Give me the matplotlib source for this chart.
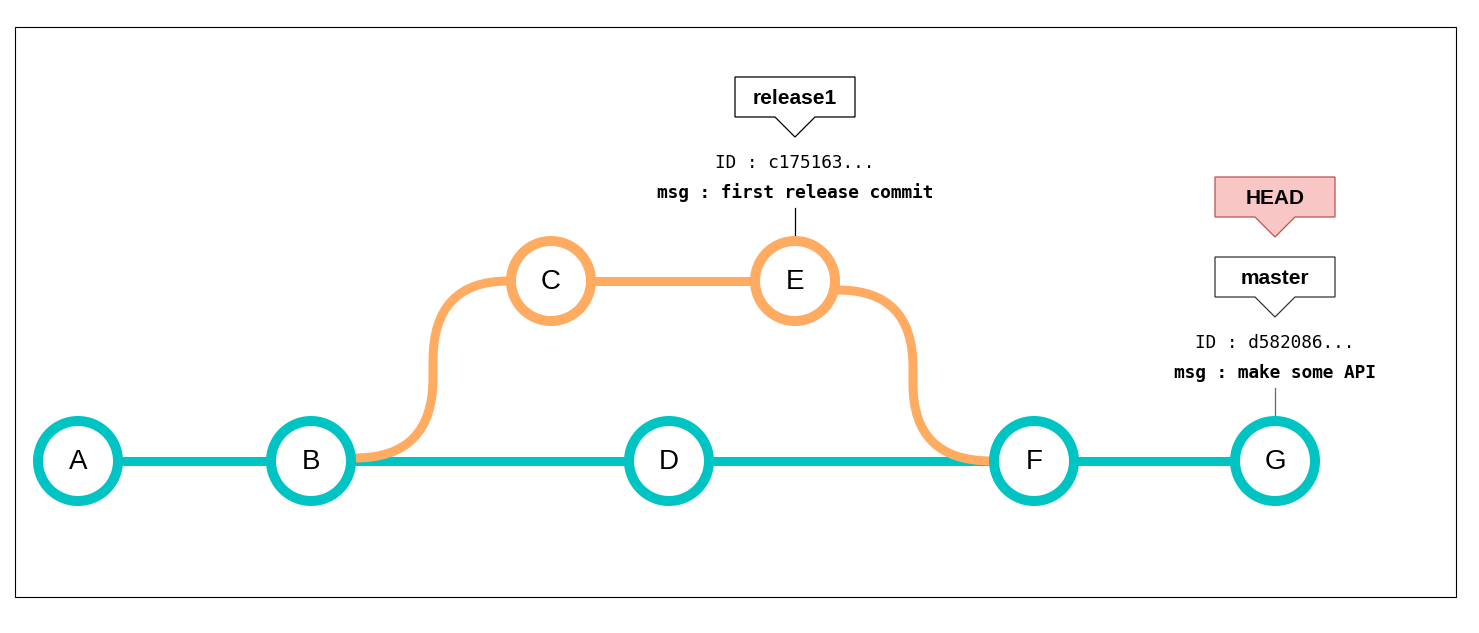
import matplotlib.pyplot as plt
from matplotlib.patches import Circle, Polygon, Rectangle, PathPatch
from matplotlib.path import Path

# commit graph data
commits = ["A", "B", "C", "D", "E", "F", "G"]
branch_of = ["master", "master", "release1", "master", "release1", "master", "master"]
master_chain = ["A", "B", "D", "F", "G"]
release_chain = ["C", "E"]
fork_from, merge_into = "B", "F"

ref_labels = ["release1", "master"]
ref_targets = ["E", "G"]
ref_ids = ["ID : c175163...", "ID : d582086..."]
ref_msgs = ["msg : first release commit", "msg : make some API"]
head_label = "HEAD"

# layout (pixels)
W, H = 1479, 633
col_x = {"A": 78, "B": 311, "C": 551, "D": 669, "E": 795, "F": 1034, "G": 1275}
lane_y = {"master": 461, "release1": 281}
R = 40
TEAL = "#00C4C4"
ORANGE = "#FFAB62"

fig = plt.figure(figsize=(W / 100, H / 100), dpi=100)
ax = fig.add_axes([0, 0, 1, 1])
ax.set_xlim(0, W)
ax.set_ylim(H, 0)
ax.axis("off")

ax.add_patch(Rectangle((15, 27), 1441, 570, fill=False, lw=0.8, ec="black"))

pos = {c: (col_x[c], lane_y[b]) for c, b in zip(commits, branch_of)}
color = {c: TEAL if b == "master" else ORANGE for c, b in zip(commits, branch_of)}

# straight edges
for chain, col in [(master_chain, TEAL), (release_chain, ORANGE)]:
    for a, b in zip(chain[:-1], chain[1:]):
        ax.plot([pos[a][0], pos[b][0]], [pos[a][1], pos[b][1]], color=col, lw=6.5,
                solid_capstyle="butt", zorder=1)


# fork and merge curves
def elbow(x0, y0, x1, y1, xm):
    ymid1 = y0 + (y1 - y0) * 0.45
    ymid2 = y0 + (y1 - y0) * 0.55
    verts = [(x0, y0), (xm, y0), (xm, ymid1), (xm, ymid2), (xm, y1), (x1, y1)]
    codes = [Path.MOVETO, Path.CURVE3, Path.CURVE3, Path.LINETO, Path.CURVE3, Path.CURVE3]
    return PathPatch(Path(verts, codes), fill=False, ec=ORANGE, lw=6.5, capstyle="butt", zorder=2)


bx, by = pos[fork_from]
cx, cy = pos[release_chain[0]]
ax.add_patch(elbow(bx + R + 4, by - 3, cx - R - 3, cy, 433))
ex, ey = pos[release_chain[-1]]
fx, fy = pos[merge_into]
ax.add_patch(elbow(ex + R + 3, ey + 9, fx - R - 3, fy, 913))

# commit nodes
for c in commits:
    x, y = pos[c]
    ax.add_patch(Circle((x, y), R, fc="white", ec=color[c], lw=7.2, zorder=3))
    ax.text(x, y + 1, c, fontsize=20, family="Liberation Sans", ha="center", va="center", zorder=4)


def callout(xc, top, label, fc="white", ec="black"):
    w, h, tri = 120, 40, 20
    pts = [(xc - w / 2, top), (xc + w / 2, top), (xc + w / 2, top + h), (xc + tri, top + h),
           (xc, top + h + tri), (xc - tri, top + h), (xc - w / 2, top + h)]
    ax.add_patch(Polygon(pts, closed=True, fc=fc, ec=ec, lw=0.9, zorder=5))
    ax.text(xc, top + h / 2 + 1, label, fontsize=15, fontweight="bold", family="Liberation Sans",
            ha="center", va="center", zorder=6)


for label, tgt, cid, msg in zip(ref_labels, ref_targets, ref_ids, ref_msgs):
    x, y = pos[tgt]
    top = y - R - 164
    callout(x, top, label, ec="black" if label == "release1" else "#333333")
    ax.text(x, top + 86, cid, fontsize=12.8, family="DejaVu Sans Mono", ha="center", va="center")
    ax.text(x, top + 116, msg, fontsize=12.8, family="DejaVu Sans Mono", fontweight="bold",
            ha="center", va="center")
    ax.plot([x, x], [top + 131, y - R - 4], color="black" if label == "release1" else "#666666", lw=0.9)
    if label == "master":
        callout(x, top - 80, head_label, fc="#F8C6C4", ec="#B85450")

fig.savefig("out.png", dpi=100)
